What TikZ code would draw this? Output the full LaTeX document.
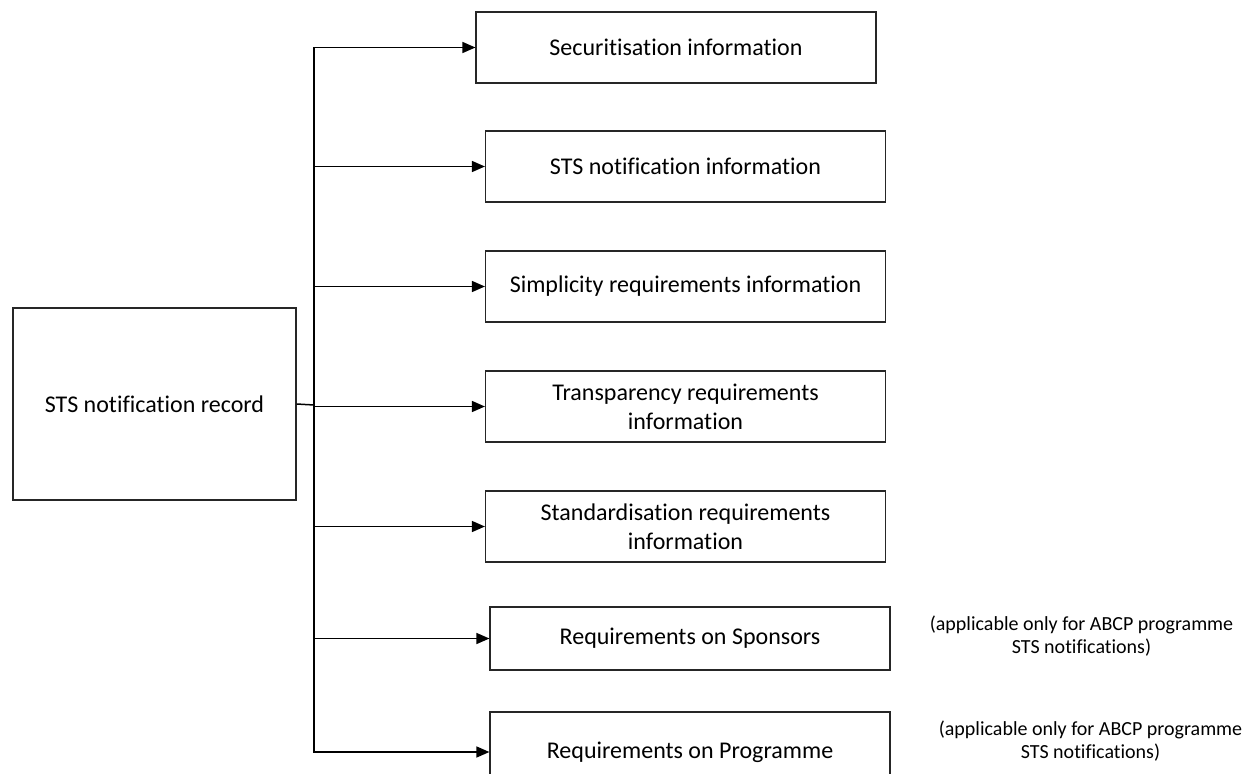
\documentclass[tikz,border=0pt]{standalone}
\usepackage{fontspec}
\setmainfont{Carlito}[Ligatures=NoCommon]
\usetikzlibrary{arrows.meta}

\begin{document}
\begin{tikzpicture}[%
x=1pt, y=-1pt,
box/.style={draw=black!85, line width=1.2pt, minimum width=400pt,
    minimum height=71pt, align=center, font=\fontsize{24}{29}\selectfont},
note/.style={align=center, font=\fontsize{20}{22.5}\selectfont},
link/.style={line width=1.5pt, -{Triangle[length=13pt,width=11pt]}}]
\useasboundingbox (0,0) rectangle (1257,773);
\node[box, minimum width=283pt, minimum height=192pt] (record) at (154.5,404) {STS notification record};
\node[box] (secinfo) at (676,47.5) {Securitisation information};
\node[box] (stsinfo) at (685.5,166.5) {STS notification information};
\node[box] (simplicity) at (685.5,286.5) {Simplicity requirements information};
\node[box] (transparency) at (685.5,406.5) {Transparency requirements\\information};
\node[box] (standardisation) at (685.5,526.5) {Standardisation requirements\\information};
\node[box, minimum height=63pt] (sponsors) at (690,638.5) {Requirements on Sponsors};
\node[box, minimum height=80pt] (programme) at (690,752) {Requirements on Programme};
\node[note] (sponsorsnote) at (1081.5,636) {(applicable only for ABCP programme\\STS notifications)};
\node[note] (programmenote) at (1090.5,741) {(applicable only for ABCP programme\\STS notifications)};
\coordinate (trunk) at (314,405);
\draw[line width=1.5pt] (record.east) -- (trunk);
\foreach \child in {secinfo, stsinfo, simplicity, transparency, standardisation, sponsors, programme}
  \draw[link] (trunk) |- (\child.west);
\end{tikzpicture}
\end{document}
